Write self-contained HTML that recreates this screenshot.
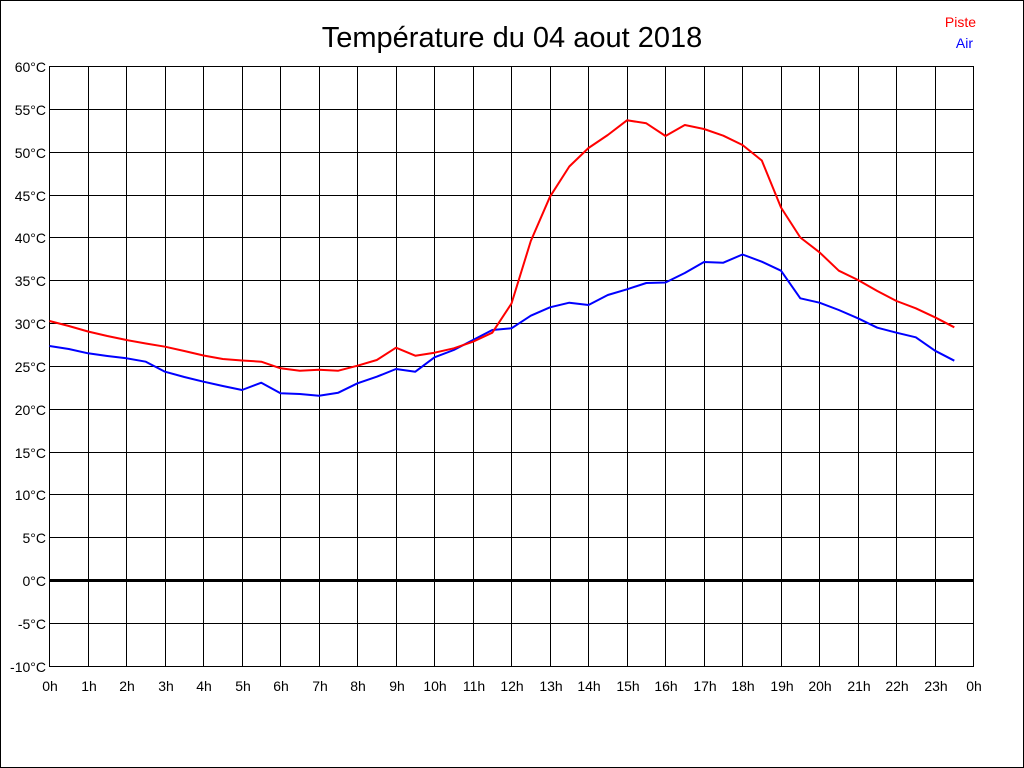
<!DOCTYPE html>
<html>
<head>
<meta charset="utf-8">
<style>
html,body{margin:0;padding:0;background:#fff;}
svg{display:block;}
text{font-family:"Liberation Sans",Arial,sans-serif;}
</style>
</head>
<body>
<svg width="1024" height="768" viewBox="0 0 1024 768" xmlns="http://www.w3.org/2000/svg">
<rect x="0" y="0" width="1024" height="768" fill="#fff"/>
<rect x="0.5" y="0.5" width="1023" height="767" fill="none" stroke="#000" stroke-width="1"/>

<text x="512" y="47" font-size="29" text-anchor="middle" fill="#000">Température du 04 aout 2018</text>
<text x="976" y="27" font-size="14" text-anchor="end" fill="#ff0000">Piste</text>
<text x="973" y="48" font-size="14" text-anchor="end" fill="#0000ff">Air</text>

<g stroke="#000" stroke-width="1" shape-rendering="crispEdges">
<line x1="49.5" y1="66" x2="49.5" y2="667"/>
<line x1="88.5" y1="66" x2="88.5" y2="667"/>
<line x1="126.5" y1="66" x2="126.5" y2="667"/>
<line x1="165.5" y1="66" x2="165.5" y2="667"/>
<line x1="203.5" y1="66" x2="203.5" y2="667"/>
<line x1="242.5" y1="66" x2="242.5" y2="667"/>
<line x1="280.5" y1="66" x2="280.5" y2="667"/>
<line x1="319.5" y1="66" x2="319.5" y2="667"/>
<line x1="357.5" y1="66" x2="357.5" y2="667"/>
<line x1="396.5" y1="66" x2="396.5" y2="667"/>
<line x1="434.5" y1="66" x2="434.5" y2="667"/>
<line x1="473.5" y1="66" x2="473.5" y2="667"/>
<line x1="511.5" y1="66" x2="511.5" y2="667"/>
<line x1="550.5" y1="66" x2="550.5" y2="667"/>
<line x1="588.5" y1="66" x2="588.5" y2="667"/>
<line x1="627.5" y1="66" x2="627.5" y2="667"/>
<line x1="665.5" y1="66" x2="665.5" y2="667"/>
<line x1="704.5" y1="66" x2="704.5" y2="667"/>
<line x1="742.5" y1="66" x2="742.5" y2="667"/>
<line x1="781.5" y1="66" x2="781.5" y2="667"/>
<line x1="819.5" y1="66" x2="819.5" y2="667"/>
<line x1="858.5" y1="66" x2="858.5" y2="667"/>
<line x1="896.5" y1="66" x2="896.5" y2="667"/>
<line x1="935.5" y1="66" x2="935.5" y2="667"/>
<line x1="973.5" y1="66" x2="973.5" y2="667"/>

<line x1="49" y1="66.5" x2="974" y2="66.5"/>
<line x1="49" y1="109.5" x2="974" y2="109.5"/>
<line x1="49" y1="152.5" x2="974" y2="152.5"/>
<line x1="49" y1="195.5" x2="974" y2="195.5"/>
<line x1="49" y1="237.5" x2="974" y2="237.5"/>
<line x1="49" y1="280.5" x2="974" y2="280.5"/>
<line x1="49" y1="323.5" x2="974" y2="323.5"/>
<line x1="49" y1="366.5" x2="974" y2="366.5"/>
<line x1="49" y1="409.5" x2="974" y2="409.5"/>
<line x1="49" y1="452.5" x2="974" y2="452.5"/>
<line x1="49" y1="494.5" x2="974" y2="494.5"/>
<line x1="49" y1="537.5" x2="974" y2="537.5"/>
<line x1="49" y1="623.5" x2="974" y2="623.5"/>
<line x1="49" y1="666.5" x2="974" y2="666.5"/>
</g>
<rect x="49" y="579" width="925" height="3" fill="#000"/>

<g font-size="14" text-anchor="end" fill="#000">
<text x="46" y="72">60°C</text>
<text x="46" y="115">55°C</text>
<text x="46" y="158">50°C</text>
<text x="46" y="201">45°C</text>
<text x="46" y="243">40°C</text>
<text x="46" y="286">35°C</text>
<text x="46" y="329">30°C</text>
<text x="46" y="372">25°C</text>
<text x="46" y="415">20°C</text>
<text x="46" y="458">15°C</text>
<text x="46" y="500">10°C</text>
<text x="46" y="543">5°C</text>
<text x="46" y="586">0°C</text>
<text x="46" y="629">-5°C</text>
<text x="46" y="672">-10°C</text>
</g>

<g font-size="14" text-anchor="middle" fill="#000">
<text x="50" y="691">0h</text>
<text x="89" y="691">1h</text>
<text x="127" y="691">2h</text>
<text x="166" y="691">3h</text>
<text x="204" y="691">4h</text>
<text x="243" y="691">5h</text>
<text x="281" y="691">6h</text>
<text x="320" y="691">7h</text>
<text x="358" y="691">8h</text>
<text x="397" y="691">9h</text>
<text x="435" y="691">10h</text>
<text x="474" y="691">11h</text>
<text x="512" y="691">12h</text>
<text x="551" y="691">13h</text>
<text x="589" y="691">14h</text>
<text x="628" y="691">15h</text>
<text x="666" y="691">16h</text>
<text x="705" y="691">17h</text>
<text x="743" y="691">18h</text>
<text x="782" y="691">19h</text>
<text x="820" y="691">20h</text>
<text x="859" y="691">21h</text>
<text x="897" y="691">22h</text>
<text x="936" y="691">23h</text>
<text x="974" y="691">0h</text>
</g>

<polyline fill="none" stroke="#0000ff" stroke-width="2" stroke-linejoin="round" points="
49.5,346 68.8,349 88,353.3 107.3,356 126.5,358.3 145.8,361.7 165,371.7 184.3,377 203.5,381.7 222.8,386 242,390 261.3,382.7 280.5,393.3 299.8,394 319,395.7 338.3,392.7 357.5,383.3 376.8,376.7 396,369 415.3,371.7 434.5,357.3 453.8,350 473,340 492.3,330 511.5,328.3 530.8,315.7 550,307.3 569.3,302.7 588.5,305 607.8,295 627,289.3 646.3,283 665.5,282.5 684.8,273 704,262 723.3,262.7 742.5,254.5 761.8,261.7 781,270.7 800.3,298.3 819.5,302.7 838.8,310 858,318.3 877.3,327.7 896.5,332.7 915.8,337.3 935,350.7 954.3,360.7"/>

<polyline fill="none" stroke="#ff0000" stroke-width="2" stroke-linejoin="round" points="
49.5,321 68.8,326 88,331.5 107.3,336 126.5,340 145.8,343.5 165,346.7 184.3,351 203.5,355.5 222.8,359 242,360.5 261.3,361.7 280.5,368.3 299.8,370.7 319,369.7 338.3,370.7 357.5,365.7 376.8,360 396,347.7 415.3,355.7 434.5,352.7 453.8,348.3 473,341.7 492.3,332.7 511.5,303.5 530.8,241 550,196.7 569.3,166.5 588.5,148 607.8,135 627,120.3 646.3,123.3 665.5,136 684.8,125 704,129 723.3,135.7 742.5,145 761.8,160.5 781,207.5 800.3,237.5 819.5,252.3 838.8,270.7 858,280 877.3,291 896.5,301 915.8,308.3 935,317.3 954.3,327.3"/>
</svg>
</body>
</html>
